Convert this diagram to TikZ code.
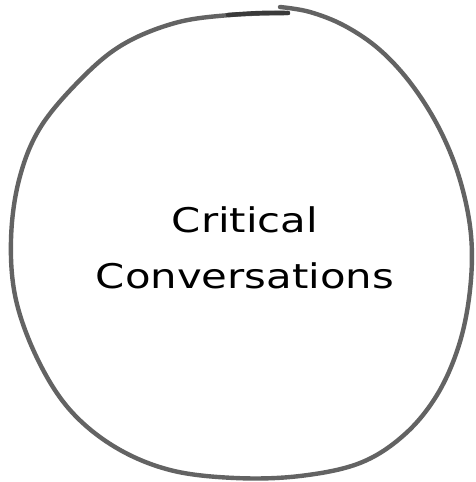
\documentclass[tikz,border=0pt]{standalone}
\usepackage{fontspec}
\newfontfamily\handfont[FakeStretch=1.23]{DejaVu Sans}
\usepackage{xcolor}
\usepackage{tikz}
\definecolor{pencil}{HTML}{636363}
\definecolor{pencildark}{HTML}{3A3A3A}
\tikzset{
    stroke/.style={line width=4.4pt,line cap=round,line join=round,color=pencil},
    title/.style={align=center,font=\handfont\fontsize{34}{56}\selectfont}
}
\begin{document}
\begin{tikzpicture}[x=1pt,y=-1pt]
    \useasboundingbox (0,0) rectangle (475,482);
    % Hand-drawn loop
    \draw[stroke] plot[smooth,tension=0.6] coordinates {
        (280,7) (310,12) (345,26) (380,50) (412,85) (440,130) (460,180)
        (471,235) (470,290) (459,345) (437,395) (404,435) (360,463)
        (300,476) (235,478) (170,470) (115,447) (70,410) (38,360)
        (16,300) (11,240) (19,180) (40,128) (80,80) (122,45) (175,23)
        (230,15) (288,13)};
    % Darker closing stroke
    \draw[stroke,pencildark] plot[smooth,tension=0.6] coordinates {
        (228,15) (260,13) (288,13)};
    % Label
    \node[title] (label) at (245,248) {Critical\\Conversations};
\end{tikzpicture}
\end{document}
